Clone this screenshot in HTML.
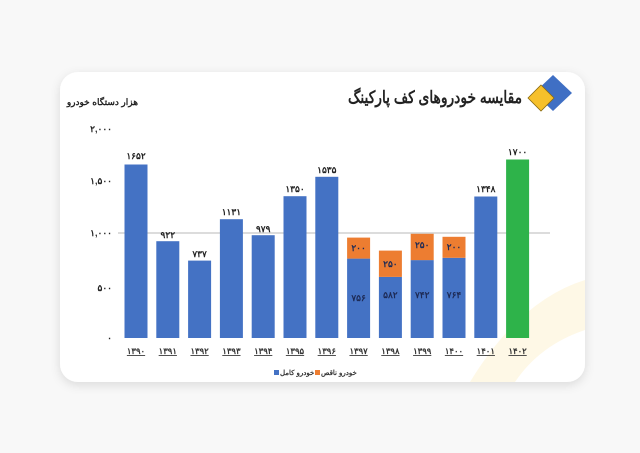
<!DOCTYPE html>
<html><head><meta charset="utf-8"><style>
html,body{margin:0;padding:0;background:#f7f7f7;width:640px;height:453px;overflow:hidden}
svg{display:block}
text{font-family:"Liberation Sans","Noto Sans CJK SC",sans-serif;font-weight:bold}
</style></head><body>
<svg width="640" height="453" viewBox="0 0 640 453" xmlns="http://www.w3.org/2000/svg">
<defs><filter id="sh" x="-10%" y="-10%" width="120%" height="130%"><feDropShadow dx="0" dy="3" stdDeviation="5" flood-color="#000" flood-opacity="0.12"/></filter></defs>
<rect x="0" y="0" width="640" height="453" fill="#f8f8f8"/>
<rect x="60" y="72" width="525" height="310" rx="18" fill="#fff" filter="url(#sh)"/>
<path d="M470 382 Q520 300 585 280 L585 330 Q540 345 515 382Z" fill="#fdf3d6" opacity="0.6"/>
<polygon points="553,75 572,93 553,111 534,93" fill="#3f6fc4"/>
<polygon points="541,85 554,98 541,111 528,98" fill="#f6c02b" stroke="#8a6a10" stroke-width="0.8"/>
<text x="522" y="103" text-anchor="start" font-size="17" fill="#222" direction="rtl" textLength="174" lengthAdjust="spacingAndGlyphs">مقایسه خودروهای کف پارکینگ</text>
<text x="138" y="105" text-anchor="start" font-size="9" fill="#222" direction="rtl">هزار دستگاه خودرو</text>
<g font-size="9" fill="#222" text-anchor="end">
<text x="112" y="132">۲,۰۰۰</text>
<text x="112" y="184">۱,۵۰۰</text>
<text x="112" y="236">۱,۰۰۰</text>
<text x="112" y="291">۵۰۰</text>
<text x="112" y="341">۰</text>
</g>
<line x1="118" y1="233" x2="550" y2="233" stroke="#b8b8b8" stroke-width="1"/>
<g fill="#4472c4">
<rect x="124.5" y="164.5" width="23" height="173.5"/>
<rect x="156.3" y="241.2" width="23" height="96.8"/>
<rect x="188.1" y="260.6" width="23" height="77.4"/>
<rect x="219.9" y="219.2" width="23" height="118.8"/>
<rect x="251.7" y="235.2" width="23" height="102.8"/>
<rect x="283.5" y="196.2" width="23" height="141.8"/>
<rect x="315.3" y="176.8" width="23" height="161.2"/>
<rect x="347.1" y="258.6" width="23" height="79.4"/>
<rect x="378.9" y="276.9" width="23" height="61.1"/>
<rect x="410.7" y="260.1" width="23" height="77.9"/>
<rect x="442.5" y="257.8" width="23" height="80.2"/>
<rect x="474.3" y="196.5" width="23" height="141.5"/>
</g>
<g fill="#ed7d31">
<rect x="347.1" y="237.6" width="23" height="21"/>
<rect x="378.9" y="250.6" width="23" height="26.3"/>
<rect x="410.7" y="233.8" width="23" height="26.3"/>
<rect x="442.5" y="236.8" width="23" height="21"/>
</g>
<rect x="506.1" y="159.5" width="23" height="178.5" fill="#2eb34a"/>
<g font-size="9" fill="#222" text-anchor="middle">
<text x="136" y="159">۱۶۵۲</text>
<text x="167.8" y="238">۹۲۲</text>
<text x="199.6" y="257">۷۳۷</text>
<text x="231.4" y="215">۱۱۳۱</text>
<text x="263.2" y="232">۹۷۹</text>
<text x="295" y="192">۱۳۵۰</text>
<text x="326.8" y="173">۱۵۳۵</text>
<text x="485.8" y="192">۱۳۴۸</text>
<text x="517.6" y="155">۱۷۰۰</text>
</g>
<g font-size="9" fill="#1d2a55" text-anchor="middle">
<text x="358.6" y="251">۲۰۰</text>
<text x="390.4" y="267">۲۵۰</text>
<text x="422.2" y="248">۲۵۰</text>
<text x="454" y="250">۲۰۰</text>
<text x="358.6" y="301">۷۵۶</text>
<text x="390.4" y="298">۵۸۲</text>
<text x="422.2" y="298">۷۴۲</text>
<text x="454" y="298">۷۶۴</text>
</g>
<g font-size="8.5" fill="#333" text-anchor="middle" font-weight="normal" style="text-decoration:underline">
<text x="136" y="354">۱۳۹۰</text>
<text x="167.8" y="354">۱۳۹۱</text>
<text x="199.6" y="354">۱۳۹۲</text>
<text x="231.4" y="354">۱۳۹۳</text>
<text x="263.2" y="354">۱۳۹۴</text>
<text x="295" y="354">۱۳۹۵</text>
<text x="326.8" y="354">۱۳۹۶</text>
<text x="358.6" y="354">۱۳۹۷</text>
<text x="390.4" y="354">۱۳۹۸</text>
<text x="422.2" y="354">۱۳۹۹</text>
<text x="454" y="354">۱۴۰۰</text>
<text x="485.8" y="354">۱۴۰۱</text>
<text x="517.6" y="354">۱۴۰۲</text>
</g>
<g font-size="7" fill="#333" font-weight="normal">
<rect x="274" y="370" width="5" height="5" fill="#4472c4"/>
<text x="280" y="375">خودرو کامل</text>
<rect x="315" y="370" width="5" height="5" fill="#ed7d31"/>
<text x="321" y="375">خودرو ناقص</text>
</g>
</svg>
</body></html>
